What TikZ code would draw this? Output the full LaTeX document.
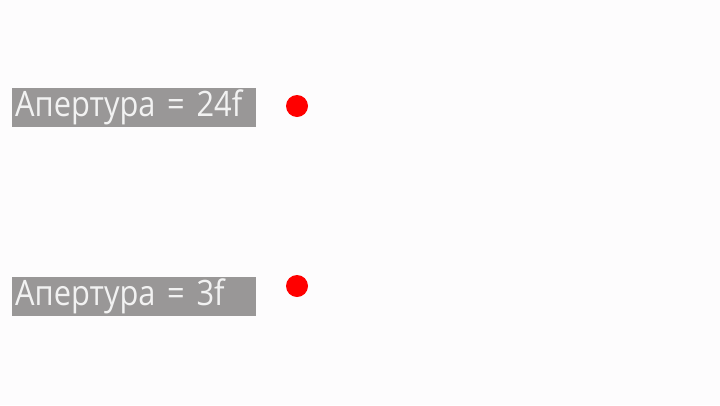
\documentclass[tikz,border=0pt]{standalone}
\usepackage{fontspec}
\setmainfont{Open Sans}[FakeStretch=0.88]
\definecolor{boxgray}{HTML}{999797}
\definecolor{txt}{HTML}{F2F2F2}
\definecolor{bg}{HTML}{FDFCFD}
\begin{document}
\begin{tikzpicture}[x=1pt,y=-1pt,
  lbl/.style={fill=boxgray,text=txt,inner sep=0pt,minimum width=244pt,minimum height=39pt,anchor=north west,text width=238pt,align=left,font=\fontsize{35}{38}\selectfont},
  dot/.style={circle,fill=red,minimum size=22pt,inner sep=0pt}]
\fill[bg] (0,0) rectangle (720,405);
\useasboundingbox (0,0) rectangle (720,405);
\node[lbl] (a) at (12,87.5) {Апертура = 24f};
\node[dot] (da) at (297,106) {};
\node[lbl] (b) at (12,277) {Апертура = 3f};
\node[dot] (db) at (297,286) {};
\end{tikzpicture}
\end{document}
